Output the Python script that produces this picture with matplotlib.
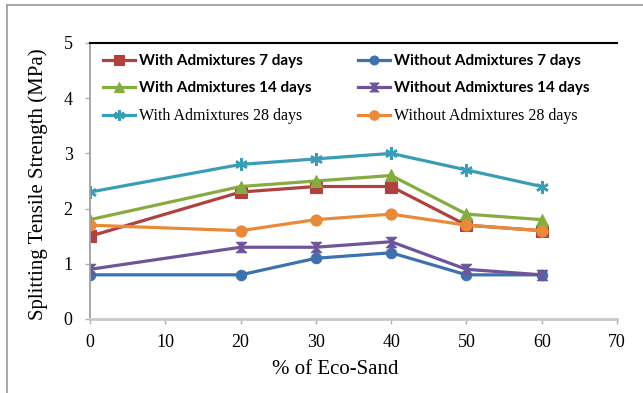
import numpy as np
import matplotlib
matplotlib.use("Agg")
from matplotlib import pyplot as plt
from matplotlib.path import Path
from matplotlib.lines import Line2D

# % of eco-sand replacement
eco_sand = [0, 20, 30, 40, 50, 60]

# splitting tensile strength (MPa)
with_7 = [1.5, 2.3, 2.4, 2.4, 1.7, 1.6]
without_7 = [0.8, 0.8, 1.1, 1.2, 0.8, 0.8]
with_14 = [1.8, 2.4, 2.5, 2.6, 1.9, 1.8]
without_14 = [0.9, 1.3, 1.3, 1.4, 0.9, 0.8]
with_28 = [2.3, 2.8, 2.9, 3.0, 2.7, 2.4]
without_28 = [1.7, 1.6, 1.8, 1.9, 1.7, 1.6]

x_ticks = [0, 10, 20, 30, 40, 50, 60, 70]
y_ticks = [0, 1, 2, 3, 4, 5]

serif = "Liberation Serif"
sans_bold = "Lato"

# hourglass marker
hourglass = Path([(-1, 1), (1, 1), (-1, -1), (1, -1), (-1, 1)],
                 [Path.MOVETO, Path.LINETO, Path.LINETO, Path.LINETO, Path.CLOSEPOLY])

fig = plt.figure(figsize=(6.43, 3.93), dpi=100)
ax = fig.add_axes([0.140, 0.1883, 0.8196, 0.7023])

# frame lines around the figure (left and top only)
fig.add_artist(Line2D([7 / 643, 7 / 643], [0, 1 - 5 / 393], transform=fig.transFigure,
                      color="#9a9a9a", lw=1.2))
fig.add_artist(Line2D([7 / 643, 1], [1 - 5 / 393, 1 - 5 / 393], transform=fig.transFigure,
                      color="#9a9a9a", lw=1.2))

lw = 2.3
series = [
    ("With Admixtures 7 days", with_7, "#B0413E", "s", 8.5),
    ("Without Admixtures 7 days", without_7, "#3E72AE", "o", 7.5),
    ("With Admixtures 14 days", with_14, "#86AC41", "^", 8.5),
    ("Without Admixtures 14 days", without_14, "#6E559A", hourglass, 7.5),
    ("With Admixtures 28 days", with_28, "#3A9DB8", (6, 2, 0), 9),
    ("Without Admixtures 28 days", without_28, "#E98A3A", "o", 8),
]

handles = []
for label, vals, c, m, ms in series:
    mew = 1.8 if isinstance(m, tuple) else 0.8
    h, = ax.plot(eco_sand, vals, color=c, lw=lw, marker=m, markersize=ms,
                 markerfacecolor=c, markeredgecolor=c, markeredgewidth=mew,
                 label=label, solid_joinstyle="miter")
    handles.append(h)

ax.set_xlim(0, 70)
ax.set_ylim(0, 5)
ax.set_xticks(x_ticks)
ax.set_yticks(y_ticks)
ax.tick_params(axis="both", direction="out", length=3.5, width=1, color="#b0b0b0",
               labelsize=13)
ax.tick_params(axis="y", pad=9)
ax.tick_params(axis="x", pad=7)
for t in ax.get_xticklabels() + ax.get_yticklabels():
    t.set_fontfamily(serif)

ax.spines["right"].set_visible(False)
ax.spines["top"].set_color("black")
ax.spines["top"].set_linewidth(1.5)
ax.spines["left"].set_color("#a0a0a0")
ax.spines["left"].set_linewidth(1.3)
ax.spines["bottom"].set_color("#c8c8c8")
ax.spines["bottom"].set_linewidth(2)

ax.set_xlabel("% of Eco-Sand", fontfamily=serif, fontsize=15)
ax.xaxis.set_label_coords(0.465, -0.150)
ax.set_ylabel("Splitting Tensile Strength (MPa)", fontfamily=serif, fontsize=15)
ax.yaxis.set_label_coords(-0.080, 0.49)

# two legend columns placed separately
def column_legend(hs, x, y):
    leg = ax.legend(handles=hs, loc="upper left", bbox_to_anchor=(x, y), frameon=False,
                    borderpad=0, borderaxespad=0, handlelength=2.2, handletextpad=0.3,
                    labelspacing=0.9, fontsize=10.5, markerscale=0.85)
    for i, t in enumerate(leg.get_texts()):
        if i < 2:
            t.set_fontfamily(sans_bold)
            t.set_fontweight("bold")
            t.set_fontsize(11)
        else:
            t.set_fontfamily(serif)
            t.set_fontsize(11.5)
    return leg

leg1 = column_legend([handles[0], handles[2], handles[4]], 0.024, 0.960)
ax.add_artist(leg1)
leg2 = column_legend([handles[1], handles[3], handles[5]], 0.508, 0.960)

fig.savefig("out.png", dpi=100)
